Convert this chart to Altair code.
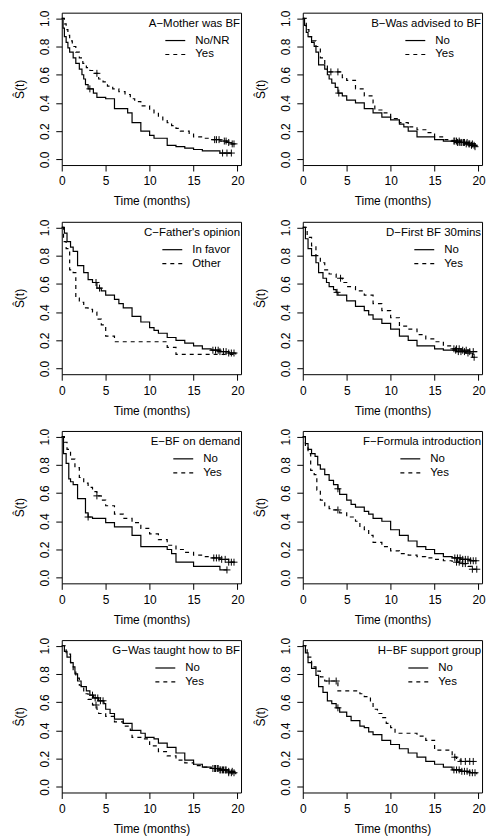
import altair as alt
import pandas as pd

FONT = "Liberation Sans"
XMAX = 20.4

# ---- Kaplan-Meier step curves: (time, survival) ----
A_no = [(0,1.0),(0.15,0.93),(0.3,0.87),(0.5,0.83),(0.7,0.79),(0.9,0.76),(1.3,0.72),(1.6,0.68),(2.0,0.64),(2.3,0.60),(2.5,0.57),(2.7,0.53),(3.0,0.50),(3.6,0.47),(4.0,0.44),(5.0,0.43),(6.0,0.36),(7.5,0.33),(8.0,0.26),(9.0,0.20),(10.0,0.17),(10.5,0.15),(12.0,0.10),(13.0,0.09),(14.0,0.08),(15.0,0.07),(16.0,0.06),(18.0,0.045),(19.3,0.045)]
A_no_c = [3.2, 18.3, 18.8, 19.3]
A_yes = [(0,1.0),(0.3,0.96),(0.5,0.92),(0.7,0.88),(0.9,0.84),(1.2,0.80),(1.6,0.76),(2.0,0.72),(2.4,0.68),(2.8,0.65),(3.2,0.63),(3.7,0.61),(4.2,0.57),(4.7,0.55),(5.2,0.52),(5.8,0.50),(6.5,0.48),(7.2,0.46),(7.8,0.43),(8.3,0.41),(9.0,0.38),(10.0,0.35),(10.5,0.33),(11.0,0.30),(11.5,0.28),(12.0,0.26),(12.5,0.24),(13.0,0.22),(13.5,0.20),(14.5,0.18),(15.0,0.16),(16.0,0.15),(17.0,0.14),(18.0,0.13),(18.8,0.12),(19.3,0.11),(19.8,0.11)]
A_yes_c = [4.0, 17.4, 17.6, 17.9, 18.5, 18.7, 19.0, 19.4, 19.6]

B_no = [(0,1.0),(0.2,0.95),(0.4,0.90),(0.6,0.87),(1.0,0.83),(1.3,0.80),(1.5,0.76),(1.8,0.67),(2.5,0.64),(2.8,0.60),(3.0,0.57),(3.3,0.54),(3.7,0.51),(4.0,0.47),(4.5,0.45),(5.0,0.42),(6.0,0.40),(7.0,0.36),(8.0,0.33),(9.0,0.30),(10.0,0.28),(11.0,0.25),(11.5,0.23),(12.0,0.20),(13.0,0.16),(15.0,0.14),(16.0,0.13),(17.5,0.12),(18.5,0.11),(19.0,0.10),(19.8,0.09)]
B_no_c = [4.1, 17.3, 17.6, 17.8, 18.0, 18.3, 18.6, 18.9, 19.2, 19.5]
B_yes = [(0,1.0),(0.4,0.92),(0.7,0.87),(1.0,0.84),(1.5,0.80),(2.0,0.72),(2.5,0.67),(2.8,0.64),(3.0,0.62),(4.5,0.58),(5.0,0.56),(6.0,0.50),(7.0,0.45),(8.0,0.40),(8.2,0.35),(9.0,0.33),(10.0,0.29),(11.0,0.26),(12.0,0.23),(13.0,0.21),(14.0,0.19),(15.0,0.16),(16.0,0.14),(17.0,0.13),(18.0,0.12),(19.0,0.11),(19.6,0.09)]
B_yes_c = [3.2, 4.0, 17.2, 17.5, 17.8, 18.1, 18.4, 18.7, 19.0, 19.3, 19.6]

C_fav = [(0,1.0),(0.3,0.96),(0.6,0.90),(1.0,0.86),(1.3,0.83),(1.8,0.73),(2.5,0.68),(3.0,0.63),(3.5,0.61),(4.0,0.57),(4.5,0.55),(5.0,0.52),(6.0,0.49),(6.5,0.46),(7.0,0.43),(8.0,0.37),(9.0,0.33),(10.0,0.29),(10.5,0.27),(11.0,0.25),(12.0,0.22),(13.0,0.20),(14.0,0.18),(15.0,0.16),(16.0,0.14),(17.0,0.13),(18.0,0.12),(19.0,0.11),(19.8,0.10)]
C_fav_c = [3.9, 4.3, 17.2, 17.5, 17.8, 18.0, 18.4, 18.7, 19.0, 19.3, 19.6]
C_oth = [(0,1.0),(0.2,0.90),(0.5,0.85),(0.9,0.70),(1.3,0.68),(1.6,0.50),(2.0,0.47),(2.5,0.43),(3.0,0.42),(3.5,0.40),(4.0,0.35),(4.5,0.31),(5.0,0.23),(6.0,0.19),(12.0,0.15),(13.0,0.10),(19.9,0.10)]
C_oth_c = []

D_no = [(0,1.0),(0.3,0.92),(0.6,0.85),(1.0,0.80),(1.5,0.75),(1.8,0.68),(2.3,0.64),(2.7,0.61),(3.0,0.58),(3.5,0.56),(3.8,0.54),(4.0,0.52),(5.0,0.48),(6.0,0.44),(7.0,0.41),(7.5,0.38),(8.0,0.35),(9.0,0.32),(10.0,0.28),(11.0,0.23),(12.0,0.20),(13.0,0.16),(15.0,0.14),(16.0,0.13),(17.5,0.12),(18.5,0.11),(19.3,0.08),(19.6,0.08)]
D_no_c = [3.9, 17.4, 17.7, 18.0, 18.4, 18.8, 19.5]
D_yes = [(0,1.0),(0.5,0.93),(1.0,0.87),(1.5,0.80),(2.0,0.75),(2.5,0.70),(3.0,0.67),(3.8,0.64),(4.5,0.61),(5.0,0.58),(6.0,0.55),(7.0,0.52),(8.0,0.46),(9.0,0.41),(10.0,0.36),(11.0,0.30),(12.0,0.28),(13.0,0.24),(14.0,0.21),(15.0,0.19),(16.0,0.16),(17.0,0.14),(18.0,0.13),(19.0,0.12),(19.8,0.11)]
D_yes_c = [4.3, 17.2, 17.5, 17.8, 18.2, 18.6, 19.0, 19.4]

E_no = [(0,1.0),(0.2,0.88),(0.5,0.81),(0.8,0.70),(1.0,0.68),(1.3,0.66),(1.8,0.56),(2.7,0.46),(3.0,0.43),(3.5,0.42),(5.0,0.39),(6.0,0.36),(8.0,0.30),(9.0,0.22),(12.0,0.20),(12.5,0.17),(13.0,0.11),(15.0,0.08),(18.0,0.055),(18.8,0.055)]
E_no_c = [3.0, 18.8]
E_yes = [(0,1.0),(0.3,0.96),(0.6,0.91),(1.0,0.84),(1.5,0.78),(2.0,0.71),(2.5,0.67),(3.0,0.64),(3.5,0.61),(4.0,0.58),(4.5,0.55),(5.0,0.51),(6.0,0.45),(7.0,0.42),(8.0,0.39),(9.0,0.35),(10.0,0.31),(11.0,0.27),(12.0,0.23),(13.0,0.20),(14.0,0.18),(15.0,0.16),(16.0,0.15),(17.0,0.14),(18.0,0.13),(19.0,0.11),(19.8,0.10)]
E_yes_c = [4.0, 17.3, 17.6, 17.9, 18.2, 18.6, 19.0, 19.3, 19.6]

F_no = [(0,1.0),(0.3,0.95),(0.6,0.91),(1.0,0.88),(1.4,0.86),(1.7,0.80),(2.0,0.77),(2.5,0.73),(3.0,0.69),(3.5,0.66),(4.0,0.63),(4.2,0.59),(5.0,0.55),(5.5,0.52),(6.0,0.50),(7.0,0.47),(7.5,0.45),(8.0,0.42),(9.0,0.40),(10.0,0.34),(11.0,0.30),(12.0,0.26),(13.0,0.22),(14.0,0.20),(15.0,0.17),(16.0,0.15),(17.0,0.14),(18.0,0.13),(19.0,0.12),(19.8,0.12)]
F_no_c = [4.0, 17.3, 17.6, 17.9, 18.2, 18.5, 18.8, 19.1, 19.4, 19.7]
F_yes = [(0,1.0),(0.3,0.93),(0.6,0.88),(0.9,0.76),(1.3,0.73),(1.6,0.62),(2.0,0.55),(2.5,0.51),(3.0,0.49),(3.5,0.48),(4.2,0.46),(5.0,0.43),(6.0,0.40),(6.5,0.36),(7.0,0.34),(7.5,0.30),(8.0,0.25),(9.0,0.22),(10.0,0.19),(11.0,0.17),(12.0,0.16),(13.0,0.15),(14.0,0.14),(15.0,0.13),(16.0,0.12),(17.0,0.11),(18.0,0.10),(18.8,0.08),(19.2,0.06),(19.8,0.06)]
F_yes_c = [4.0, 17.5, 17.8, 18.2, 18.5, 19.3, 19.8]

G_no = [(0,1.0),(0.3,0.96),(0.6,0.92),(1.0,0.88),(1.3,0.85),(1.5,0.80),(1.8,0.75),(2.2,0.71),(2.8,0.68),(3.2,0.65),(3.6,0.63),(4.2,0.61),(4.8,0.59),(5.0,0.55),(5.5,0.52),(6.0,0.48),(7.0,0.45),(8.0,0.40),(9.0,0.38),(9.5,0.35),(10.5,0.34),(11.0,0.31),(12.0,0.28),(13.0,0.24),(14.0,0.19),(15.0,0.16),(16.0,0.14),(17.0,0.13),(18.0,0.12),(19.0,0.10),(19.8,0.09)]
G_no_c = [3.5, 3.8, 4.1, 4.4, 4.7, 17.2, 17.5, 17.8, 18.1, 18.4, 18.7, 19.0, 19.3, 19.6]
G_yes = [(0,1.0),(0.5,0.94),(1.0,0.88),(1.3,0.83),(1.6,0.77),(2.0,0.72),(2.5,0.66),(3.0,0.62),(3.5,0.58),(4.0,0.55),(4.2,0.52),(5.0,0.50),(6.0,0.46),(7.0,0.43),(7.8,0.40),(8.0,0.35),(9.0,0.34),(10.0,0.29),(11.0,0.25),(12.0,0.22),(13.0,0.19),(14.0,0.17),(15.0,0.15),(16.0,0.14),(17.0,0.13),(18.0,0.12),(19.0,0.11),(19.8,0.10)]
G_yes_c = [3.9, 17.4, 17.7, 18.0, 18.3, 18.6, 19.0, 19.4]

H_no = [(0,1.0),(0.3,0.95),(0.6,0.88),(1.0,0.84),(1.5,0.79),(1.8,0.71),(2.3,0.67),(2.8,0.61),(3.3,0.59),(3.8,0.56),(4.2,0.53),(5.0,0.50),(5.5,0.47),(6.5,0.43),(7.0,0.42),(7.5,0.39),(8.0,0.37),(9.0,0.33),(10.0,0.30),(11.0,0.27),(12.0,0.24),(13.0,0.21),(14.0,0.18),(15.0,0.16),(16.0,0.14),(17.0,0.12),(18.0,0.11),(19.0,0.10),(19.8,0.09)]
H_no_c = [4.0, 17.2, 17.5, 17.8, 18.1, 18.4, 18.7, 19.0, 19.3, 19.6]
H_yes = [(0,1.0),(0.5,0.92),(1.0,0.85),(1.5,0.82),(2.0,0.78),(2.5,0.75),(4.0,0.68),(6.5,0.66),(7.0,0.64),(7.7,0.60),(8.0,0.55),(8.5,0.52),(9.0,0.49),(9.5,0.45),(10.0,0.42),(10.5,0.38),(13.0,0.36),(14.0,0.33),(15.0,0.26),(17.0,0.21),(17.5,0.19),(18.0,0.18),(19.4,0.18)]
H_yes_c = [3.0, 3.8, 17.3, 18.0, 18.5, 19.0, 19.4]

# panel titles and group labels
TITLES = ["A\u2212Mother was BF", "B\u2212Was advised to BF", "C\u2212Father's opinion",
          "D\u2212First BF 30mins", "E\u2212BF on demand", "F\u2212Formula introduction",
          "G\u2212Was taught how to BF", "H\u2212BF support group"]
GROUPS = [("No/NR", "Yes"), ("No", "Yes"), ("In favor", "Other"), ("No", "Yes"),
          ("No", "Yes"), ("No", "Yes"), ("No", "Yes"), ("No", "Yes")]
CURVES = [(A_no, A_no_c, A_yes, A_yes_c), (B_no, B_no_c, B_yes, B_yes_c),
          (C_fav, C_fav_c, C_oth, C_oth_c), (D_no, D_no_c, D_yes, D_yes_c),
          (E_no, E_no_c, E_yes, E_yes_c), (F_no, F_no_c, F_yes, F_yes_c),
          (G_no, G_no_c, G_yes, G_yes_c), (H_no, H_no_c, H_yes, H_yes_c)]

# legend layout (pixels inside plot area): line start x
LEG_X = [104, 103, 101, 112, 112, 98, 94, 106]

W, H = 180, 153
PAD_L, PAD_T, PAD_R, PAD_B = 61, 10, 9, 47
DASH = [4, 4]
CROSS = "M-1,0L1,0M0,-1L0,1"
FS_AX = 12
FS_LEG = 11.5


def surv_at(curve, t):
    s = curve[0][1]
    for tt, ss in curve:
        if tt <= t:
            s = ss
    return s


xs = alt.Scale(domain=[0, XMAX], nice=False, zero=False)
ys = alt.Scale(domain=[-0.04, 1.04], nice=False, zero=False)
xax = alt.Axis(values=[0, 5, 10, 15, 20], title="Time (months)", labelPadding=5,
               titlePadding=9, labelFlush=False)
yax = alt.Axis(values=[0, 0.2, 0.4, 0.6, 0.8, 1.0], format=".1f", labelAngle=270,
               labelAlign="center", labelBaseline="bottom", labelPadding=4,
               title="\u015C(t)", titlePadding=12, labelFlush=False)


def panel(i):
    c1, c1c, c2, c2c = CURVES[i]
    g1, g2 = GROUPS[i]
    d1 = pd.DataFrame(c1, columns=["t", "s"])
    d2 = pd.DataFrame(c2, columns=["t", "s"])
    cens = pd.DataFrame([(t, surv_at(c1, t)) for t in c1c] +
                        [(t, surv_at(c2, t)) for t in c2c], columns=["t", "s"])

    enc = dict(x=alt.X("t:Q", scale=xs, axis=xax), y=alt.Y("s:Q", scale=ys, axis=yax))
    l1 = alt.Chart(d1).mark_line(interpolate="step-after", color="black",
                                 strokeWidth=1.2).encode(**enc)
    l2 = alt.Chart(d2).mark_line(interpolate="step-after", color="black",
                                 strokeWidth=1.2, strokeDash=DASH).encode(**enc)
    layers = [l1, l2]
    if len(cens):
        pts = alt.Chart(cens).mark_point(shape=CROSS, size=49, filled=False,
                                         color="black", strokeWidth=1,
                                         opacity=1).encode(**enc)
        layers.append(pts)

    one = pd.DataFrame({"k": [0]})
    lx = LEG_X[i]
    title = alt.Chart(one).mark_text(text=TITLES[i], align="right", baseline="middle",
                                     font=FONT, fontSize=FS_LEG, color="black").encode(
        x=alt.value(179), y=alt.value(11))
    r1 = alt.Chart(one).mark_rule(color="black", strokeWidth=1.2).encode(
        x=alt.value(lx), x2=alt.value(lx + 20), y=alt.value(28))
    r2 = alt.Chart(one).mark_rule(color="black", strokeWidth=1.2, strokeDash=DASH).encode(
        x=alt.value(lx), x2=alt.value(lx + 20), y=alt.value(42))
    t1 = alt.Chart(one).mark_text(text=g1, align="left", baseline="middle", font=FONT,
                                  fontSize=FS_LEG, color="black").encode(
        x=alt.value(lx + 30), y=alt.value(28))
    t2 = alt.Chart(one).mark_text(text=g2, align="left", baseline="middle", font=FONT,
                                  fontSize=FS_LEG, color="black").encode(
        x=alt.value(lx + 30), y=alt.value(42))
    layers += [title, r1, r2, t1, t2]
    # invisible anchors fixing the outer bounds of the figure
    if i == 0:
        layers.append(alt.Chart(one).mark_rule(color="white", strokeWidth=0.01,
                                               opacity=0).encode(
            x=alt.value(-PAD_L), x2=alt.value(-PAD_L + 0.01), y=alt.value(-PAD_T)))
    if i == 7:
        layers.append(alt.Chart(one).mark_rule(color="white", strokeWidth=0.01,
                                               opacity=0).encode(
            x=alt.value(W + PAD_R), x2=alt.value(W + PAD_R - 0.01), y=alt.value(H + PAD_B)))
    return alt.layer(*layers).properties(width=W, height=H)


chart = alt.concat(*[panel(i) for i in range(8)], columns=2,
                   spacing={"row": 57, "column": 62}, bounds="flush").properties(
    padding=0,
    background="white",
).configure_view(stroke="black", strokeWidth=1).configure_axis(
    labelFont=FONT, titleFont=FONT, labelFontSize=FS_AX, titleFontSize=FS_AX,
    titleFontWeight="normal", labelColor="black", titleColor="black",
    tickColor="black", tickSize=6, domain=False, grid=False,
)

chart.save("out.html", embed_options={"renderer": "svg", "actions": False})
